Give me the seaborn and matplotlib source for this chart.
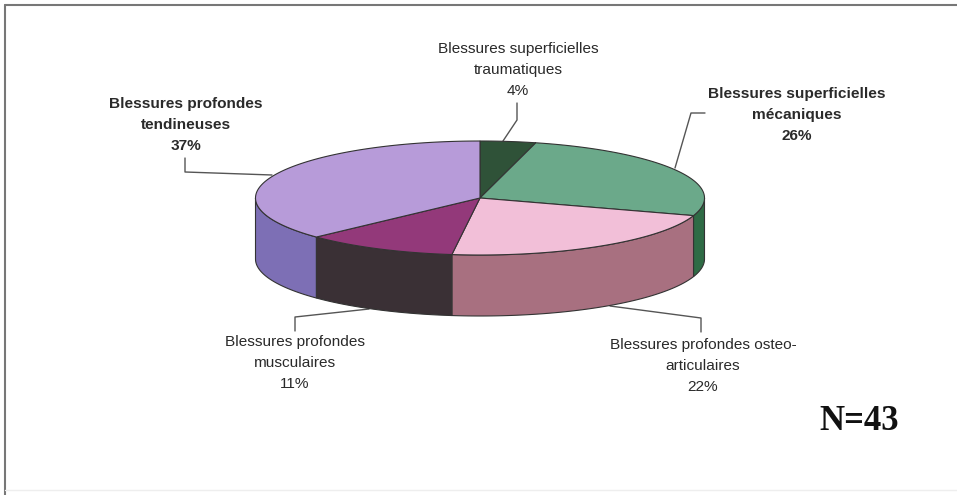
import numpy as np
import matplotlib
matplotlib.use('Agg')
import matplotlib.pyplot as plt
import seaborn as sns

# Data
categories = ['Blessures superficielles\ntraumatiques',
              'Blessures superficielles\nmécaniques',
              'Blessures profondes osteo-\narticulaires',
              'Blessures profondes\nmusculaires',
              'Blessures profondes\ntendineuses']
percents = [4, 26, 22, 11, 37]
n_label = 'N=43'

top_colors = ['#2f5238', '#6ba98a', '#f2bfd8', '#93397a', '#b79bd9']
side_colors = ['#2f5238', '#2f6b45', '#a87080', '#3a3035', '#7d6fb5']

# layout in pixels
cx, cy, rx, ry, depth = 480, 198, 224.5, 57, 61
label_pos = [(518, 70), (797, 115), (703, 366), (295, 363), (186, 125)]
label_bold = [False, True, False, False, True]
leaders = [[(503, 141), (517, 120), (517, 103)],
           [(675, 168), (691, 113), (705, 113)],
           [(610, 306), (701, 318), (701, 332)],
           [(369, 309), (295, 317), (295, 331)],
           [(272, 175), (185, 172), (185, 158)]]

sns.set_theme(style='white')
plt.rcParams['font.family'] = ['Liberation Sans', 'DejaVu Sans']

fig, ax = plt.subplots(figsize=(9.57, 4.95), dpi=100)
fig.subplots_adjust(0, 0, 1, 1)
ax.set_xlim(0, 957)
ax.set_ylim(495, 0)
ax.axis('off')


def rim(t, dy=0):
    return cx + rx * np.sin(t), cy + dy - ry * np.cos(t)


edges = np.radians(np.cumsum([0] + percents) * 3.6)

# side wall, only the front half can be seen
for i in range(len(percents)):
    a, b = max(edges[i], np.pi / 2), min(edges[i + 1], 3 * np.pi / 2)
    if a >= b:
        continue
    t = np.linspace(a, b, 80)
    xs, ys = rim(t)
    xb, yb = rim(t, depth)
    ax.fill(np.r_[xs, xb[::-1]], np.r_[ys, yb[::-1]], fc=side_colors[i],
            ec='#333333', lw=0.8, zorder=2)

# top face
for i in range(len(percents)):
    t = np.linspace(edges[i], edges[i + 1], 120)
    xs, ys = rim(t)
    ax.fill(np.r_[cx, xs], np.r_[cy, ys], fc=top_colors[i],
            ec='#333333', lw=0.8, zorder=3)

for pts in leaders:
    xs, ys = zip(*pts)
    ax.plot(xs, ys, color='#555555', lw=1, zorder=1)

for cat, pct, (x, y), bold in zip(categories, percents, label_pos, label_bold):
    ax.text(x, y, f'{cat}\n{pct}%', ha='center', va='center', color='#2a2a2a',
            fontsize=11.1, fontweight='bold' if bold else 'normal',
            linespacing=1.6)

ax.text(859, 422, n_label, ha='center', va='center', color='#111111',
        family='Liberation Serif', fontweight='bold', fontsize=25)

# scanned frame
ax.plot([5, 5], [5, 495], color='#777777', lw=1.5)
ax.plot([5, 957], [5, 5], color='#777777', lw=1.5)
ax.plot([5, 957], [490, 490], color='#eeeeee', lw=1)

fig.savefig('out.png', dpi=100)
